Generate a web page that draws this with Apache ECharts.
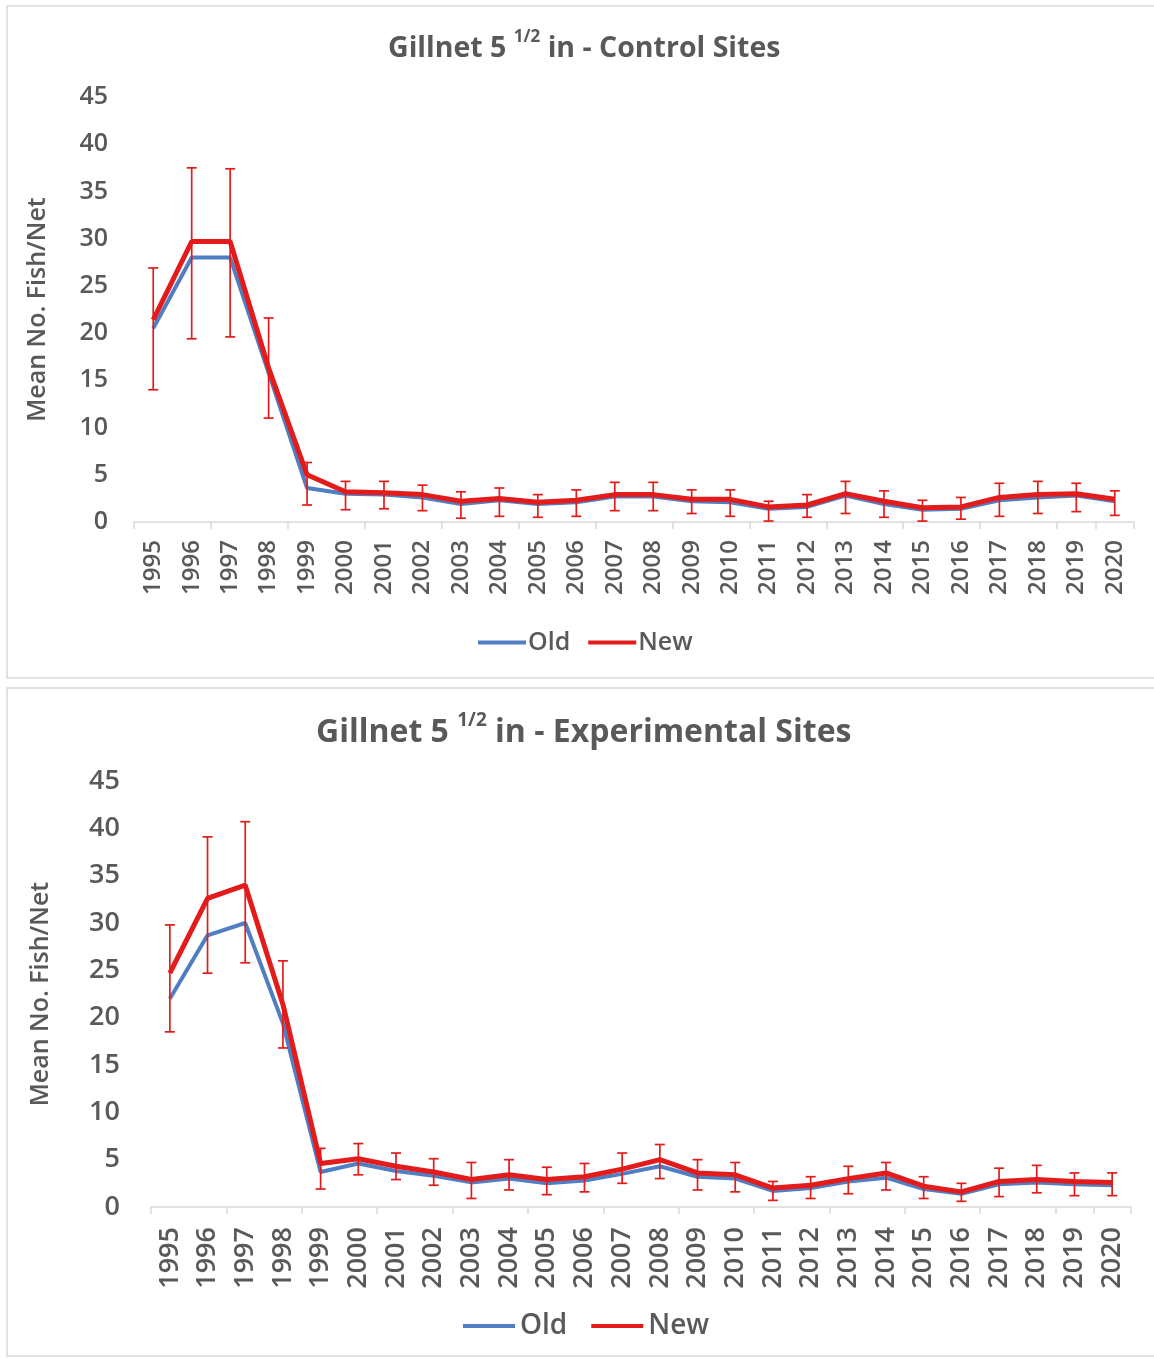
<!DOCTYPE html>
<html>
<head>
<meta charset="utf-8">
<script src="https://cdn.jsdelivr.net/npm/echarts@6/dist/echarts.min.js"></script>
<style>
html,body{margin:0;padding:0;background:#fff;}
#chart{width:1154px;height:1358px;}
</style>
</head>
<body>
<div id="chart"></div>
<script>
var years = ['1995','1996','1997','1998','1999','2000','2001','2002','2003','2004','2005','2006','2007','2008','2009','2010','2011','2012','2013','2014','2015','2016','2017','2018','2019','2020'];
var yTicks = [0,5,10,15,20,25,30,35,40,45];

// Control sites
var ctrlOld  = [20.5,28.0,28.0,15.8,3.6,3.0,2.9,2.6,1.9,2.3,1.9,2.1,2.7,2.7,2.2,2.1,1.4,1.6,2.8,1.9,1.3,1.4,2.3,2.6,2.8,2.2];
var ctrlNew  = [21.4,29.7,29.7,16.3,5.0,3.2,3.1,2.9,2.2,2.5,2.1,2.3,2.9,2.9,2.4,2.4,1.6,1.8,3.0,2.2,1.5,1.6,2.6,2.9,3.0,2.4];
var ctrlHigh = [26.9,37.5,37.4,21.6,6.3,4.3,4.3,3.9,3.2,3.6,2.9,3.4,4.2,4.2,3.4,3.4,2.2,2.9,4.3,3.3,2.3,2.6,4.1,4.3,4.1,3.3];
var ctrlLow  = [14.0,19.4,19.6,11.0,1.8,1.3,1.4,1.2,0.4,0.6,0.5,0.6,1.2,1.2,0.9,0.6,0.1,0.5,0.9,0.5,0.1,0.3,0.6,0.9,1.1,0.7];

// Experimental sites
var expOld  = [22.0,28.7,30.0,19.4,3.7,4.6,3.8,3.3,2.6,3.0,2.5,2.8,3.5,4.3,3.2,3.0,1.7,2.0,2.7,3.1,1.9,1.4,2.4,2.6,2.4,2.3];
var expNew  = [24.7,32.6,34.0,21.4,4.6,5.1,4.3,3.7,2.9,3.4,2.9,3.2,4.0,5.0,3.6,3.4,2.0,2.3,3.0,3.6,2.2,1.6,2.7,2.9,2.7,2.6];
var expHigh = [29.8,39.1,40.7,26.0,6.2,6.7,5.7,5.1,4.7,5.0,4.2,4.6,5.7,6.6,5.0,4.7,2.7,3.2,4.3,4.7,3.2,2.5,4.1,4.4,3.6,3.6];
var expLow  = [18.5,24.7,25.8,16.8,1.9,3.4,2.9,2.3,0.9,1.8,1.3,1.6,2.5,3.0,1.8,1.6,0.7,0.9,1.4,1.8,0.9,0.6,1.1,1.5,1.2,1.2];

var titles = ['Control Sites','Experimental Sites'];
var FONT = 'Open Sans';
var GREY = '#595959';
var BLUE = '#4f7fc2';
var RED = '#e41b1b';

// per-panel text styling (bottom panel is rendered slightly larger in the reference)
var S = [
  {title:28.5, sup:17, tl:34, tleft:383, ttop:24, ylab:25, ymargin:26, yname:25, ngap:84, xlab:24, xmargin:18,
   leg:25, legW:48, legGap:18, legPad:-3, legLeft:473, legTop:625},
  {title:32,   sup:19, tl:38, tleft:311, ttop:706, ylab:27, ymargin:31, yname:25, ngap:98, xlab:27, xmargin:20,
   leg:28, legW:52, legGap:24, legPad:0, legLeft:458, legTop:1307}
];

function errData(low, high){
  return low.map(function(l,i){ return [i, l, high[i]]; });
}
function renderErr(params, api){
  var x = api.value(0);
  var pLow = api.coord([x, api.value(1)]);
  var pHigh = api.coord([x, api.value(2)]);
  var cap = 5;
  var st = {stroke: RED, lineWidth: 1.7};
  return {type:'group', children:[
    {type:'line', shape:{x1:pLow[0],y1:pLow[1],x2:pHigh[0],y2:pHigh[1]}, style:st},
    {type:'line', shape:{x1:pLow[0]-cap,y1:pLow[1],x2:pLow[0]+cap,y2:pLow[1]}, style:st},
    {type:'line', shape:{x1:pHigh[0]-cap,y1:pHigh[1],x2:pHigh[0]+cap,y2:pHigh[1]}, style:st}
  ]};
}
function titleOpt(gi){
  var s = S[gi];
  return {
    text: '{a|Gillnet 5 }{s|1/2}{a| in - ' + titles[gi] + '}',
    left: s.tleft, top: s.ttop,
    textStyle: {
      rich: {
        a: {fontFamily: FONT, fontWeight: 'bold', fontSize: s.title, color: GREY, lineHeight: s.tl, verticalAlign: 'bottom'},
        s: {fontFamily: FONT, fontWeight: 'bold', fontSize: s.sup, color: GREY, lineHeight: s.tl, verticalAlign: 'top'}
      }
    }
  };
}
function xAxisOpt(gi){
  var s = S[gi];
  return {
    type: 'category', gridIndex: gi, data: years, boundaryGap: true,
    axisLine: {lineStyle: {color: '#d9d9d9', width: 1.5}},
    axisTick: {show: true, interval: 1, length: 7, lineStyle: {color: '#d9d9d9', width: 1.5}},
    axisLabel: {rotate: 90, interval: 0, margin: s.xmargin, fontFamily: FONT, fontWeight: 600, fontSize: s.xlab, color: GREY}
  };
}
function yAxisOpt(gi){
  var s = S[gi];
  return {
    type: 'value', gridIndex: gi, min: 0, max: 45, interval: 5,
    name: 'Mean No. Fish/Net', nameLocation: 'middle', nameGap: s.ngap,
    nameTextStyle: {fontFamily: FONT, fontWeight: 600, fontSize: s.yname, color: GREY},
    axisLine: {show: false}, axisTick: {show: false}, splitLine: {show: false},
    axisLabel: {margin: s.ymargin, fontFamily: FONT, fontWeight: 600, fontSize: s.ylab, color: GREY,
      formatter: function(v){ return yTicks.indexOf(v) >= 0 ? String(v) : ''; }}
  };
}
function legendOpt(gi){
  var s = S[gi];
  return {
    top: s.legTop, left: s.legLeft, itemWidth: s.legW, itemHeight: 4, itemGap: s.legGap, icon: 'rect',
    textStyle: {fontFamily: FONT, fontWeight: 600, fontSize: s.leg, color: GREY, padding:[0,0,0,s.legPad]},
    data: ['Old','New']
  };
}
function lineSeries(name, data, gi, color, w, z){
  return {type:'line', name:name, data:data, xAxisIndex:gi, yAxisIndex:gi, showSymbol:false, symbol:'none',
    lineStyle:{color:color, width:w}, itemStyle:{color:color}, z:z, animation:false};
}

var chart = echarts.init(document.getElementById('chart'), null, {renderer:'canvas'});
chart.setOption({
  animation: false,
  backgroundColor: '#ffffff',
  graphic: [
    {type:'rect', shape:{x:7,y:6,width:1150,height:672}, style:{fill:'none', stroke:'#d9d9d9', lineWidth:1.5}, silent:true, z:-1},
    {type:'rect', shape:{x:7,y:688,width:1150,height:668}, style:{fill:'none', stroke:'#d9d9d9', lineWidth:1.5}, silent:true, z:-1}
  ],
  title: [titleOpt(0), titleOpt(1)],
  legend: [legendOpt(0), legendOpt(1)],
  grid: [
    {left:134, right:20, top:97, height:425},
    {left:151, right:23, top:781, height:426}
  ],
  xAxis: [xAxisOpt(0), xAxisOpt(1)],
  yAxis: [yAxisOpt(0), yAxisOpt(1)],
  series: [
    lineSeries('Old', ctrlOld, 0, BLUE, 4, 2),
    lineSeries('New', ctrlNew, 0, RED, 5, 3),
    {type:'custom', name:'New', xAxisIndex:0, yAxisIndex:0, data: errData(ctrlLow, ctrlHigh), renderItem: renderErr, encode:{x:0, y:[1,2]}, z:4},
    lineSeries('Old', expOld, 1, BLUE, 4, 2),
    lineSeries('New', expNew, 1, RED, 5, 3),
    {type:'custom', name:'New', xAxisIndex:1, yAxisIndex:1, data: errData(expLow, expHigh), renderItem: renderErr, encode:{x:0, y:[1,2]}, z:4}
  ]
});
</script>
</body>
</html>
